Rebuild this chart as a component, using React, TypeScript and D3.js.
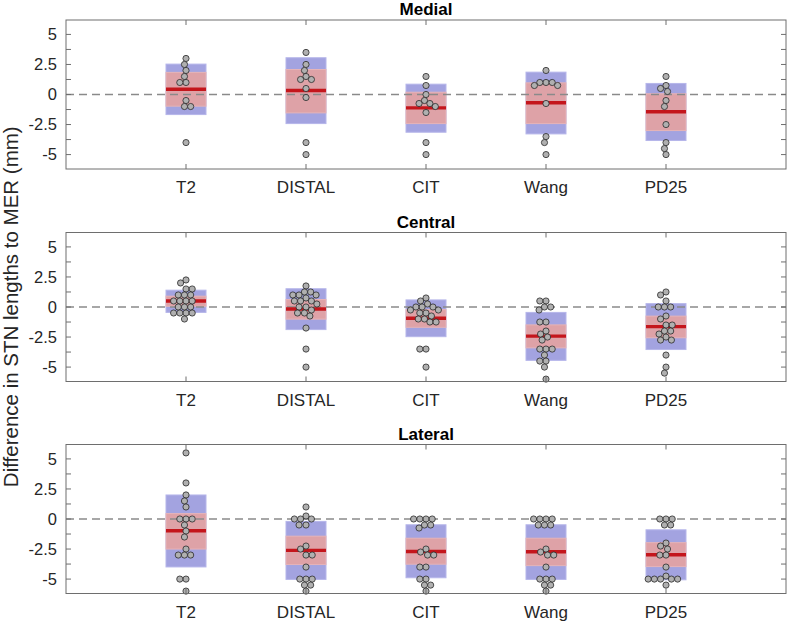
import React from "react";
import * as d3 from "d3";

const categories = ["T2", "DISTAL", "CIT", "Wang", "PD25"];
const panelTitles = ["Medial", "Central", "Lateral"];
const yLabel = "Difference in STN lengths to MER (mm)";
const yTickLabels = [-5, -2.5, 0, 2.5, 5];
const yMinorTicks = [-5, -3.75, -2.5, -1.25, 0, 1.25, 2.5, 3.75, 5];

const medialValues = [
  [3, 2.5, 2, 1.5, 1, 1, -0.5, -1, -1, -4],
  [3.5, 2.5, 2, 1.5, 1.25, 1.25, 0.5, -0.25, -4, -5],
  [1.5, 0.75, 0, -0.5, -0.75, -0.75, -1, -1.5, -4, -5],
  [2, 1, 1, 1, 0.75, 0.75, -0.75, -3.5, -4, -5],
  [1.5, 0.75, 0.5, 0.25, -0.5, -1, -2.5, -4, -4.5, -5],
];
const centralValues = [
  [2.25, 2, 1.5, 1.5, 1, 1, 1, 0.5, 0.5, 0.5, 0.5, 0, 0, 0, -0.5, -0.5, -0.5, -0.5, -1],
  [1.75, 1.25, 1.25, 1, 1, 1, 0.75, 0.5, 0.5, 0.5, 0.25, 0, 0, -0.25, -0.5, -0.5, -0.75, -1.75, -3.5, -5],
  [0.75, 0.5, 0.25, 0, 0, 0, -0.25, -0.25, -0.5, -0.5, -0.75, -1, -1, -1.25, -1.25, -3.5, -3.5, -5],
  [0.5, 0.5, 0, 0, -0.25, -1.25, -1.25, -2, -2.25, -2.5, -2.75, -3.5, -3.5, -3.5, -4, -4.5, -4.5, -5, -6],
  [1.25, 1, 0.5, 0, 0, 0, -0.75, -1, -1.5, -1.5, -2, -2, -2.25, -2.5, -2.75, -2.75, -4, -5, -5.5],
];
const lateralValues = [
  [5.5, 3, 2, 1.5, 1, 0, 0, 0, -0.5, -1, -1.5, -2.5, -3, -3, -3, -5, -5, -6],
  [1, 0.25, 0, 0, 0, -0.5, -0.5, -2.25, -2.5, -3, -3, -4, -5, -5, -5, -5.5, -5.5, -6],
  [0, 0, 0, 0, -0.5, -0.5, -0.75, -2.5, -2.75, -3, -3, -4, -4, -5, -5, -5.5, -5.5, -6],
  [0, 0, 0, 0, -0.5, -0.5, -0.5, -2.5, -2.75, -3, -3, -4, -5, -5, -5, -5.5, -5.5, -6],
  [0, 0, 0, -0.5, -0.5, -2, -2.25, -2.5, -3, -3, -4, -4.75, -5, -5, -5, -5, -5, -5.5],
];

const medialMean = [0.44, 0.33, -1.11, -0.69, -1.44];
const medialCI = [[-0.97, 1.84], [-1.53, 2.08], [-2.42, 0.19], [-2.42, 0.97], [-3.0, 0.06]];
const medialSD = [[-1.67, 2.53], [-2.42, 3.06], [-3.14, 0.86], [-3.28, 1.86], [-3.83, 0.92]];
const centralMean = [0.5, -0.17, -0.93, -2.42, -1.63];
const centralCI = [[0.06, 0.9], [-1.01, 0.62], [-1.69, -0.22], [-3.4, -1.49], [-2.56, -0.76]];
const centralSD = [[-0.45, 1.4], [-1.88, 1.52], [-2.47, 0.59], [-4.44, -0.45], [-3.54, 0.28]];
const lateralMean = [-0.98, -2.61, -2.7, -2.72, -2.98];
const lateralCI = [[-2.5, 0.45], [-3.79, -1.43], [-3.76, -1.6], [-3.88, -1.6], [-3.96, -1.97]];
const lateralSD = [[-3.99, 2.0], [-5.03, -0.2], [-4.89, -0.48], [-5.03, -0.48], [-5.06, -0.9]];

const panelsData = [
  { values: medialValues, mean: medialMean, ci: medialCI, sd: medialSD },
  { values: centralValues, mean: centralMean, ci: centralCI, sd: centralSD },
  { values: lateralValues, mean: lateralMean, ci: lateralCI, sd: lateralSD },
];

const W = 790;
const H = 625;
const left = 66;
const right = 786;
const panelTops = [20, 232.5, 444.5];
const panelH = 149;
const FONT = "'Liberation Sans', Arial, Helvetica, sans-serif";
const R = 3.1;

function swarm(vals: number[], y: (v: number) => number, diam: number) {
  const pts = vals.map((v, i) => ({ v, i, py: y(v), dx: 0 }));
  const order = [...pts].sort((a, b) => a.py - b.py);
  const placed: typeof pts = [];
  for (const p of order) {
    const cands = [0];
    for (const q of placed) {
      const dy = Math.abs(q.py - p.py);
      if (dy < diam) {
        const d = Math.sqrt(diam * diam - dy * dy);
        cands.push(q.dx + d, q.dx - d);
      }
    }
    const ok = cands.filter((c) =>
      placed.every((q) => Math.hypot(q.dx - c, q.py - p.py) >= diam - 0.01)
    );
    ok.sort((a, b) => Math.abs(a) - Math.abs(b) || a - b);
    p.dx = ok[0];
    placed.push(p);
  }
  return pts;
}

export default function App() {
  const x = d3.scaleLinear().domain([0, 6]).range([left, right]);
  const halfW = 1 / 6;

  return (
    <svg
      width={W}
      height={H}
      style={{ position: "absolute", left: 0, top: 0, background: "#fff" }}
      fontFamily={FONT}
    >
      {panelsData.map((pd, pi) => {
        const top = panelTops[pi];
        const y = d3.scaleLinear().domain([-6.2, 6.2]).range([top + panelH, top]);
        return (
          <g key={pi}>
            {categories.map((c, ci) => {
              const cx = ci + 1;
              const x0 = x(cx - halfW);
              const x1 = x(cx + halfW);
              const sd = pd.sd[ci];
              const ci95 = pd.ci[ci];
              return (
                <g key={c}>
                  <rect
                    x={x0}
                    y={y(sd[1])}
                    width={x1 - x0}
                    height={y(sd[0]) - y(sd[1])}
                    fill="#a3a3e0"
                    stroke="#b6b6ea"
                    strokeWidth={1}
                  />
                  <rect
                    x={x0}
                    y={y(ci95[1])}
                    width={x1 - x0}
                    height={y(ci95[0]) - y(ci95[1])}
                    fill="#dea2a7"
                    stroke="#e6b4b8"
                    strokeWidth={1}
                  />
                </g>
              );
            })}
            <line
              x1={left}
              x2={right}
              y1={y(0)}
              y2={y(0)}
              stroke="#8a8a8a"
              strokeWidth={1.6}
              strokeDasharray="8,5"
            />
            {categories.map((c, ci) => (
              <line
                key={c}
                x1={x(ci + 1 - halfW)}
                x2={x(ci + 1 + halfW)}
                y1={y(pd.mean[ci])}
                y2={y(pd.mean[ci])}
                stroke="#c4161c"
                strokeWidth={3.4}
              />
            ))}
            {categories.map((c, ci) => {
              const pts = swarm(pd.values[ci], y, 2 * R);
              return (
                <g key={c}>
                  {pts.map((p) => (
                    <circle
                      key={p.i}
                      cx={x(ci + 1) + p.dx}
                      cy={p.py}
                      r={R}
                      fill="#b0b0b0"
                      stroke="#2a2a2a"
                      strokeWidth={0.8}
                    />
                  ))}
                </g>
              );
            })}
            <rect
              x={left}
              y={top}
              width={right - left}
              height={panelH}
              fill="none"
              stroke="#6e6e6e"
              strokeWidth={1}
            />
            {yMinorTicks.map((t) => (
              <g key={t}>
                <line x1={left} x2={left + 5} y1={y(t)} y2={y(t)} stroke="#6e6e6e" />
                <line x1={right} x2={right - 5} y1={y(t)} y2={y(t)} stroke="#6e6e6e" />
              </g>
            ))}
            {yTickLabels.map((t) => (
              <text
                key={t}
                x={left - 9}
                y={y(t)}
                dy="0.35em"
                textAnchor="end"
                fontSize={16.5}
                fill="#262626"
              >
                {String(t)}
              </text>
            ))}
            {categories.map((c, ci) => (
              <g key={c}>
                <line x1={x(ci + 1)} x2={x(ci + 1)} y1={top} y2={top + 5} stroke="#6e6e6e" />
                <line
                  x1={x(ci + 1)}
                  x2={x(ci + 1)}
                  y1={top + panelH}
                  y2={top + panelH - 5}
                  stroke="#6e6e6e"
                />
                <text
                  x={x(ci + 1)}
                  y={top + panelH + 24}
                  textAnchor="middle"
                  fontSize={17}
                  fill="#262626"
                >
                  {c}
                </text>
              </g>
            ))}
            <text
              x={(left + right) / 2}
              y={top - 5}
              textAnchor="middle"
              fontSize={17}
              fontWeight="bold"
              fill="#000"
            >
              {panelTitles[pi]}
            </text>
          </g>
        );
      })}
      <text
        transform={`translate(18, ${(panelTops[0] + panelTops[2] + panelH) / 2}) rotate(-90)`}
        textAnchor="middle"
        fontSize={20.5}
        fill="#262626"
      >
        {yLabel}
      </text>
    </svg>
  );
}
